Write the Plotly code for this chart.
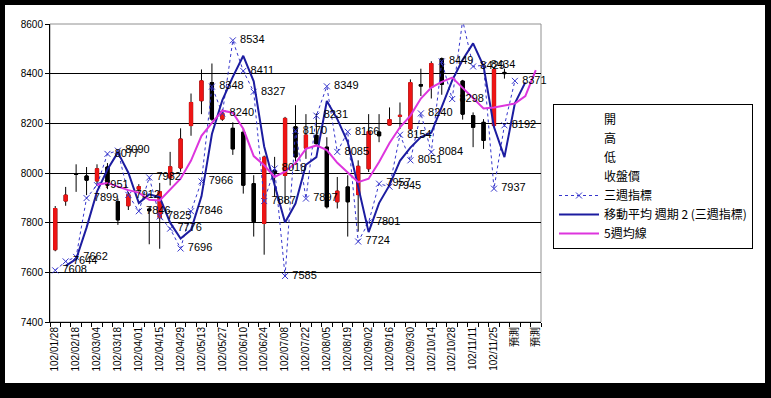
import plotly.graph_objects as go

# ---------------- data ----------------
categories = [
    "102/01/28", "102/02/04", "102/02/18", "102/02/25", "102/03/04", "102/03/11",
    "102/03/18", "102/03/25", "102/04/01", "102/04/08", "102/04/15", "102/04/22",
    "102/04/29", "102/05/06", "102/05/13", "102/05/20", "102/05/27", "102/06/03",
    "102/06/10", "102/06/17", "102/06/24", "102/07/01", "102/07/08", "102/07/15",
    "102/07/22", "102/07/29", "102/08/05", "102/08/12", "102/08/19", "102/08/26",
    "102/09/02", "102/09/09", "102/09/16", "102/09/23", "102/09/30", "102/10/07",
    "102/10/14", "102/10/21", "102/10/28", "102/11/04", "102/11/11", "102/11/18",
    "102/11/25", "102/12/02", "預測", "預測", "預測",
]

open_p = [7691, 7887, 7998, 7988, 7968, 8024, 7885, 7868, 7935, 7855, 7820, 7980,
          8020, 8191, 8291, 8364, 8217, 8180, 8164, 7957, 7797, 8010, 7990, 8186,
          8100, 8152, 8104, 7884, 7944, 7913, 8017, 8165, 8193, 8228, 8177, 8356,
          8345, 8460, None, 8370, 8231, 8204, 8191, 8405, None, None, None]
high_p = [7867, 7944, 8035, 8024, 8035, 8040, 7897, 7924, 7955, 7863, 7960, 8085,
          8180, 8320, 8417, 8441, 8257, 8204, 8177, 7991, 8070, 8065, 8226, 8273,
          8237, 8240, 8144, 7984, 7991, 8051, 8237, 8237, 8264, 8284, 8377, 8420,
          8450, 8465, None, 8375, 8244, 8217, 8424, 8420, None, None, None]
low_p = [7685, 7868, 7924, 7911, 7951, 7935, 7791, 7851, 7925, 7713, 7695, 7950,
         8005, 8150, 8237, 8210, 8210, 8073, 7917, 7744, 7671, 7904, 7880, 8046,
         8057, 8110, 7857, 7857, 7744, 7764, 8004, 8124, 8191, 8177, 8170, 8310,
         8300, 8315, None, 8215, 8104, 8097, 8185, 8380, None, None, None]
close_p = [7857, 7911, 7995, 7971, 8017, 7951, 7811, 7913, 7945, 7848, 7925, 8025,
           8137, 8284, 8371, 8217, 8240, 8097, 7951, 7804, 8064, 8000, 8220, 8065,
           8153, 8118, 7864, 7927, 7884, 8027, 8167, 8150, 8215, 8232, 8364, 8350,
           8441, 8357, None, 8237, 8184, 8131, 8417, 8400, None, None, None]

# 三週指標
three_week = [7608, 7644, 7662, 7899, 7951, 8077, 8090, 7912, 7846, 7982, 7825, 7776,
              7696, 7846, 7966, 8348, 8240, 8534, 8411, 8327, 7887, 8018, 7585, 8170,
              7897, 8231, 8349, 8085, 8166, 7724, 7801, 7957, 7945, 8154, 8051, 8240,
              8084, 8449, 8298, 8615, 8429, 8434, 7937, 8192, 8371, None, None]

# 移動平均 週期 2 (三週指標)
ma2 = [None, 7626, 7653, 7780, 7925, 8014, 8083, 8001, 7879, 7914, 7903, 7800,
       7736, 7771, 7906, 8157, 8294, 8387, 8472, 8369, 8107, 7952, 7801, 7877,
       8033, 8064, 8290, 8217, 8125, 7945, 7762, 7879, 7951, 8049, 8102, 8145,
       8162, 8266, 8373, 8456, 8522, 8431, 8185, 8064, 8281, 8365, None]

# 5週均線
ma5 = [None, None, None, None, 7953, 7960, 7945, 7931, 7921, 7892, 7889, 7931,
       7977, 8050, 8150, 8202, 8251, 8243, 8178, 8068, 8031, 7984, 8005, 8040,
       8097, 8111, 8092, 8041, 8001, 7963, 7977, 8044, 8121, 8184, 8231, 8300,
       8344, 8367, 8384, 8344, 8300, 8260, 8264, 8273, 8280, 8310, 8414]

y_ticks = [7400, 7600, 7800, 8000, 8200, 8400, 8600]

# ---------------- layout constants (pixels) ----------------
W, H = 771, 398
ML, MR, MT, MB = 50, 230, 24, 76
PW, PH = W - ML - MR, H - MT - MB


def px_x(p):
    return (p - ML) / PW


def px_y(p):
    return 1 - (p - MT) / PH


RED = "#EE1515"
BLACK = "#000000"
DOT_BLUE = "#3535CC"
MA_BLUE = "#1C1CA0"
MAGENTA = "#DD35DD"

x = list(range(len(categories)))

body_hi = [max(o, c) if o is not None else None for o, c in zip(open_p, close_p)]
body_lo = [min(o, c) if o is not None else None for o, c in zip(open_p, close_p)]

fig = go.Figure()

# wicks (black high-low lines)
fig.add_trace(go.Candlestick(
    x=x, open=open_p, high=high_p, low=low_p, close=close_p,
    increasing=dict(line=dict(color=BLACK, width=1), fillcolor=RED),
    decreasing=dict(line=dict(color=BLACK, width=1), fillcolor=BLACK),
    showlegend=False, hoverinfo="skip",
))
# bodies
fig.add_trace(go.Candlestick(
    x=x, open=open_p, high=body_hi, low=body_lo, close=close_p,
    increasing=dict(line=dict(color=RED, width=1), fillcolor=RED),
    decreasing=dict(line=dict(color=BLACK, width=1), fillcolor=BLACK),
    showlegend=False, hoverinfo="skip",
))

# legend-only entries for the stock series
for nm in ["開", "高", "低", "收盤價"]:
    fig.add_trace(go.Scatter(x=[None], y=[None], mode="lines", name=nm,
                             line=dict(color="rgba(0,0,0,0)", width=1)))

fig.add_trace(go.Scatter(
    x=x, y=three_week, mode="lines+markers", name="三週指標",
    line=dict(color=DOT_BLUE, width=1, dash="dot"),
    marker=dict(symbol="x-thin", size=6, line=dict(color=DOT_BLUE, width=1)),
))
fig.add_trace(go.Scatter(
    x=x, y=ma2, mode="lines", name="移動平均 週期 2 (三週指標)",
    line=dict(color=MA_BLUE, width=2),
))
fig.add_trace(go.Scatter(
    x=x, y=ma5, mode="lines", name="5週均線",
    line=dict(color=MAGENTA, width=2),
))
# data labels of 三週指標 (points above the axis range are not labelled)
fig.add_trace(go.Scatter(
    x=x, y=three_week, mode="markers+text",
    text=[str(v) if (v is not None and v <= y_ticks[-1]) else "" for v in three_week],
    textposition="middle right",
    textfont=dict(family="Liberation Sans, Arial", size=11, color="black"),
    marker=dict(size=10, opacity=0),
    cliponaxis=False,
    showlegend=False, hoverinfo="skip",
))

fig.update_layout(
    width=W, height=H,
    margin=dict(l=ML, r=MR, t=MT, b=MB, pad=0),
    paper_bgcolor="black",
    plot_bgcolor="white",
    boxgap=0.56,
    showlegend=True,
    legend=dict(
        x=px_x(553), y=px_y(104), xanchor="left", yanchor="top",
        bgcolor="white", bordercolor="black", borderwidth=1,
        font=dict(family="Noto Sans CJK TC", size=12, color="black"),
        itemwidth=40, tracegroupgap=0,
    ),
    xaxis=dict(
        range=[-0.5, len(categories) - 0.5],
        rangeslider=dict(visible=False),
        tickmode="array",
        tickvals=x[::2],
        ticktext=categories[::2],
        tickangle=-90,
        ticks="",
        tickfont=dict(family="Liberation Sans, Noto Sans CJK TC", size=10, color="black"),
        showgrid=False, zeroline=False,
        showline=True, linecolor="black", linewidth=1,
        minor=dict(ticks="outside", tick0=-0.5, dtick=1, ticklen=4,
                   tickcolor="black", showgrid=False),
    ),
    yaxis=dict(
        range=[y_ticks[0], y_ticks[-1]],
        tickmode="array", tickvals=y_ticks,
        ticks="outside", ticklen=4, tickcolor="black",
        tickfont=dict(family="Liberation Sans, Arial", size=10, color="black"),
        showgrid=True, gridcolor="black", gridwidth=1,
        zeroline=False,
        showline=True, linecolor="black", linewidth=1,
    ),
    shapes=[
        dict(type="rect", xref="paper", yref="paper",
             x0=px_x(5), x1=px_x(765), y0=px_y(383), y1=px_y(5),
             fillcolor="white", line=dict(width=0), layer="below"),
        dict(type="rect", xref="paper", yref="paper",
             x0=0, x1=1, y0=0, y1=1,
             fillcolor="rgba(0,0,0,0)", line=dict(color="#909090", width=1),
             layer="below"),
    ],
)

fig.write_html("out.html")
